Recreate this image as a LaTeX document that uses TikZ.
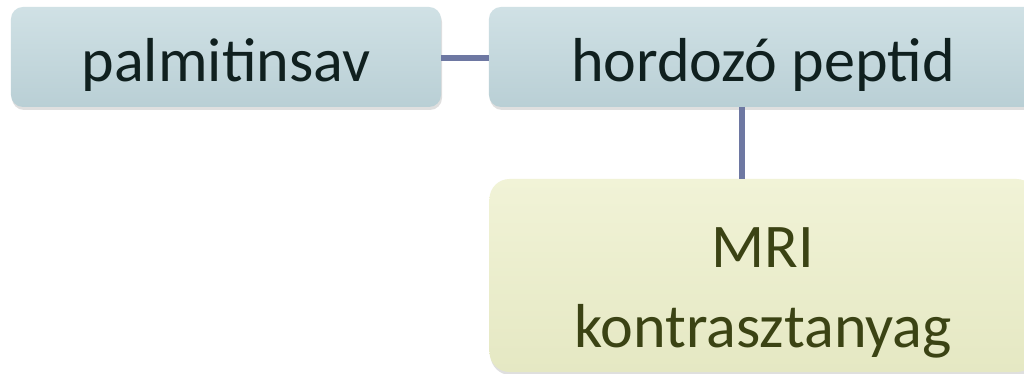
\documentclass[tikz,border=0pt]{standalone}
\usepackage{fontspec}
\setmainfont{Carlito}
\usetikzlibrary{shadows}
\definecolor{kekfelso}{HTML}{D0E1E5}
\definecolor{kekalso}{HTML}{B9CFD5}
\definecolor{sargafelso}{HTML}{F1F3D7}
\definecolor{sargaalso}{HTML}{E5E8C3}
\definecolor{vonal}{HTML}{6E78A2}
\definecolor{sotetbetu}{HTML}{10201F}
\definecolor{olivbetu}{HTML}{3B4314}

\tikzset{
  doboz/.style = {rectangle, rounded corners=0.36cm, inner sep=0pt, outer sep=0pt,
    top color=kekfelso, bottom color=kekalso, text=sotetbetu,
    drop shadow={opacity=0.25, shadow xshift=0.03cm, shadow yshift=-0.09cm},
    minimum height=3cm, font=\fontsize{53}{68}\selectfont},
  felsodoboz/.style = {doboz, text height=42pt, text depth=0pt},
  sargadoboz/.style = {doboz, rounded corners=0.6cm,
    top color=sargafelso, bottom color=sargaalso, text=olivbetu, align=center},
  osszekoto/.style = {draw=vonal, line width=0.17cm}
}

\begin{document}
\begin{tikzpicture}[x=0.03cm, y=-0.03cm]
\clip (0,0) rectangle (1024,374);
\fill[white] (0,0) rectangle (1024,374);

% felso sor
\node[felsodoboz, minimum width=12.9cm] (palm) at (226,57) {palmitinsav};
\node[felsodoboz, minimum width=16.44cm] (hord) at (763,57) {hordozó peptid};

% also doboz
\node[sargadoboz, minimum width=16.41cm, minimum height=5.79cm] (mri) at (763,275.5) {\rule{0pt}{64pt}MRI\\kontrasztanyag};

% osszekotok
\coordinate (fuggx) at (742,0);
\draw[osszekoto] (palm.east |- 0,58) -- (hord.west |- 0,58);
\draw[osszekoto] (hord.south -| fuggx) -- (mri.north -| fuggx);
\end{tikzpicture}
\end{document}
